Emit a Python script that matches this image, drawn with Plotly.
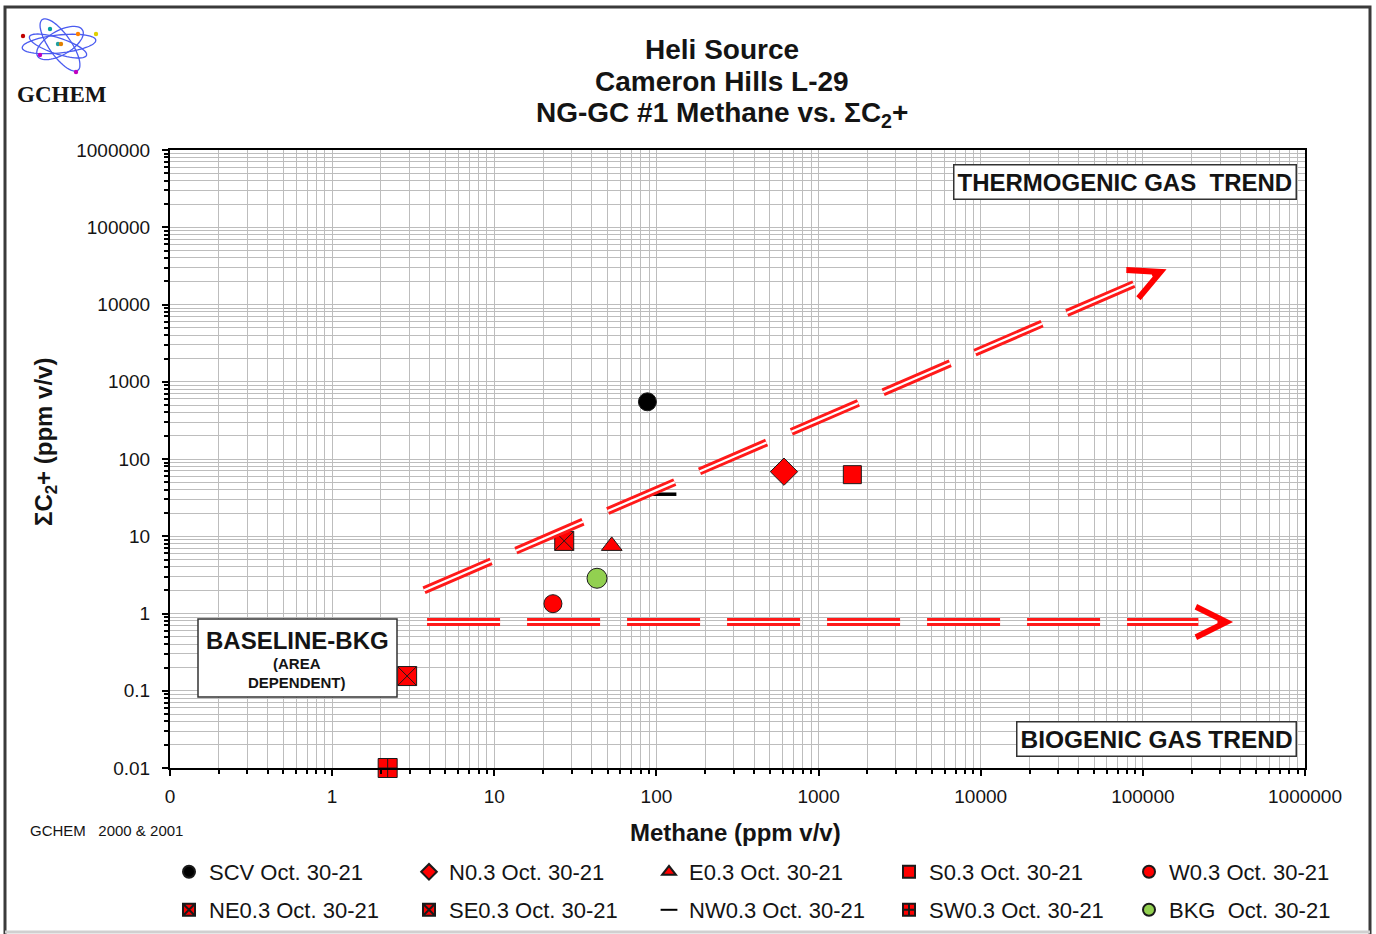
import numpy as np
import plotly.graph_objects as go

# ---------------- data ----------------
SERIES_NAMES = ["SCV Oct. 30-21", "N0.3 Oct. 30-21", "E0.3 Oct. 30-21", "S0.3 Oct. 30-21",
                "W0.3 Oct. 30-21", "NE0.3 Oct. 30-21", "SE0.3 Oct. 30-21", "NW0.3 Oct. 30-21",
                "SW0.3 Oct. 30-21", "BKG\u00a0 Oct. 30-21"]
METHANE = [88, 612, 53, 1615, 23, 27, 2.9, 111, 2.2, 43]          # ppm v/v
C2_PLUS = [550, 68.5, 7.5, 62.7, 1.34, 8.7, 0.155, 35, 0.01, 2.86]  # ppm v/v

THERMO_TREND_X = [3.69, 88100]
THERMO_TREND_Y = [2.0, 18400]
THERMO_ARROW_TIP = [140000, 28500]
BIO_TREND_X = [3.85, 220000]
BIO_TREND_Y = [0.776, 0.776]
BIO_ARROW_TIP = [360000, 0.776]

X_TICK_VALS = [0.1, 1, 10, 100, 1000, 10000, 100000, 1000000]
X_TICK_TEXT = ["0", "1", "10", "100", "1000", "10000", "100000", "1000000"]
Y_TICK_VALS = [0.01, 0.1, 1, 10, 100, 1000, 10000, 100000, 1000000]
Y_TICK_TEXT = ["0.01", "0.1", "1", "10", "100", "1000", "10000", "100000", "1000000"]

# ---------------- styles ----------------
SYMBOLS = ["circle", "diamond", "triangle-up", "square", "circle",
           "square-x", "square-x", "line-ew", "square-cross", "circle"]
FILLS = ["#000000", "#ff0000", "#ff0000", "#ff0000", "#ff0000",
         "#ff0000", "#ff0000", "#000000", "#ff0000", "#92d050"]
SIZES = [18, 21, 18, 18, 18, 19, 19, 18, 19, 20]

W, H = 1376, 934
L, R, T, B = 170, 71, 150, 166
PW, PH = W - L - R, H - T - B
FONT = "Liberation Sans, Arial, sans-serif"
TXT = "#141414"


def xp(px):
    return (px - L) / PW


def yp(py):
    return (H - B - py) / PH


fig = go.Figure()

for i, name in enumerate(SERIES_NAMES):
    sym = SYMBOLS[i]
    if sym == "line-ew":
        marker = dict(symbol=sym, size=SIZES[i], line=dict(color="#000000", width=3.5))
    else:
        marker = dict(symbol=sym, size=SIZES[i], color=FILLS[i],
                      line=dict(color="#1a1a1a", width=1))
    fig.add_trace(go.Scatter(x=[METHANE[i]], y=[C2_PLUS[i]], mode="markers", name=name,
                             marker=marker, cliponaxis=False,
                             legend="legend" if i < 5 else "legend2"))

# double dashed trend lines (red thick line with white centre stroke)
for tx, ty in [(THERMO_TREND_X, THERMO_TREND_Y), (BIO_TREND_X, BIO_TREND_Y)]:
    fig.add_trace(go.Scatter(x=tx, y=ty, mode="lines", showlegend=False, hoverinfo="skip",
                             line=dict(color="#ff1a1a", width=8, dash="73px,27px")))
    fig.add_trace(go.Scatter(x=tx, y=ty, mode="lines", showlegend=False, hoverinfo="skip",
                             line=dict(color="#ffffff", width=2.2, dash="73px,27px")))

minor_x = [m * 10.0 ** e for e in range(-1, 6) for m in range(2, 10)]
minor_y = [m * 10.0 ** e for e in range(-2, 6) for m in range(2, 10)]
GRID = "#bdbdbd"

fig.update_xaxes(type="log", range=[-1, 6], tickmode="array", tickvals=X_TICK_VALS,
                 ticktext=X_TICK_TEXT, showgrid=True, gridcolor=GRID, gridwidth=1,
                 showline=True, linecolor="#000000", linewidth=2, mirror=True,
                 ticks="outside", ticklen=6, tickwidth=2, tickcolor="#000000",
                 zeroline=False, ticklabelstandoff=4,
                 tickfont=dict(family=FONT, size=19, color=TXT),
                 minor=dict(tickmode="array", tickvals=minor_x, ticks="outside", ticklen=4,
                            tickwidth=1.5, tickcolor="#000000", showgrid=True,
                            gridcolor=GRID, gridwidth=1))
fig.update_yaxes(type="log", range=[-2, 6], tickmode="array", tickvals=Y_TICK_VALS,
                 ticktext=Y_TICK_TEXT, showgrid=True, gridcolor=GRID, gridwidth=1,
                 showline=True, linecolor="#000000", linewidth=2, mirror=True,
                 ticks="outside", ticklen=6, tickwidth=2, tickcolor="#000000",
                 zeroline=False, ticklabelstandoff=8,
                 tickfont=dict(family=FONT, size=19, color=TXT),
                 minor=dict(tickmode="array", tickvals=minor_y, ticks="outside", ticklen=4,
                            tickwidth=1.5, tickcolor="#000000", showgrid=True,
                            gridcolor=GRID, gridwidth=1))

ann = []


def text(px, py, s, size, bold=True, family=FONT, anchor="center", angle=0, color=TXT):
    ann.append(dict(x=xp(px), y=yp(py), xref="paper", yref="paper",
                    text=("<b>%s</b>" % s) if bold else s, showarrow=False,
                    xanchor=anchor, yanchor="middle", textangle=angle,
                    font=dict(family=family, size=size, color=color)))


# titles
text(722, 50, "Heli Source", 28)
text(722, 82, "Cameron Hills L-29", 28)
text(722, 114, "NG-GC #1 Methane vs. ΣC<sub>2</sub>+", 28)
# axis titles
text(735, 832, "Methane (ppm v/v)", 24)
text(45, 442, "ΣC<sub>2</sub>+ (ppm v/v)", 24, angle=-90)
# footer and logo text
text(28, 830, "GCHEM\u00a0\u00a0\u00a02000 & 2001", 15, bold=False, anchor="left")
text(62, 95, "GCHEM", 23, family="Liberation Serif, Times New Roman, serif")

# boxed labels
for cx, cy, s, fs in [(1124.5, 182, "THERMOGENIC GAS\u00a0 TREND", 24),
                      (1156.5, 738.5, "BIOGENIC GAS TREND", 24.5)]:
    ann.append(dict(x=xp(cx), y=yp(cy), xref="paper", yref="paper", text="<b>%s</b>" % s,
                    showarrow=False, xanchor="center", yanchor="middle",
                    bgcolor="#ffffff", bordercolor="#333333", borderwidth=1.5, borderpad=3,
                    font=dict(family=FONT, size=fs, color=TXT)))

text(297, 640, "BASELINE-BKG", 24)
text(297, 663, "(AREA", 15)
text(297, 682, "DEPENDENT)", 15)

# arrow heads of the trend lines
dx_dec = PW / 7.0
dy_dec = PH / 8.0
tlx = np.log10(THERMO_TREND_X)
tly = np.log10(THERMO_TREND_Y)
ang = np.arctan2((tly[1] - tly[0]) * dy_dec, (tlx[1] - tlx[0]) * dx_dec)
for tip, a in [(THERMO_ARROW_TIP, ang), (BIO_ARROW_TIP, 0.0)]:
    ann.append(dict(x=np.log10(tip[0]), y=np.log10(tip[1]), xref="x", yref="y", text="",
                    showarrow=True, arrowhead=5, arrowsize=4, arrowwidth=1.5,
                    arrowcolor="#ff0000", ax=-14 * np.cos(a), ay=14 * np.sin(a),
                    axref="pixel", ayref="pixel"))

shapes = []
# baseline box
shapes.append(dict(type="rect", xref="paper", yref="paper", x0=xp(198), x1=xp(397),
                   y0=yp(619), y1=yp(697), fillcolor="#ffffff",
                   line=dict(color="#333333", width=1.5), layer="above"))
# outer frame
shapes.append(dict(type="rect", xref="paper", yref="paper", x0=xp(5), x1=xp(1370),
                   y0=yp(7), y1=yp(960), line=dict(color="#3a3a3a", width=3)))
shapes.append(dict(type="line", xref="paper", yref="paper", x0=xp(5), x1=xp(1370),
                   y0=yp(932), y1=yp(932), line=dict(color="#d0d0d0", width=3)))


# atom logo
def ellipse(cx, cy, rx, ry, deg):
    t = np.linspace(0, 2 * np.pi, 60)
    a = np.deg2rad(deg)
    px = cx + rx * np.cos(t) * np.cos(a) - ry * np.sin(t) * np.sin(a)
    py = cy + rx * np.cos(t) * np.sin(a) + ry * np.sin(t) * np.cos(a)
    pts = ["%.4f,%.4f" % (xp(u), yp(v)) for u, v in zip(px, py)]
    return "M" + " L".join(pts) + " Z"


for (cx, cy, rx, ry, deg) in [(59, 44, 37, 9, -6), (60, 45, 31, 11, 55), (58, 46, 30, 8, 18),
                              (60, 43, 26, 12, -30)]:
    shapes.append(dict(type="path", xref="paper", yref="paper", path=ellipse(cx, cy, rx, ry, deg),
                       line=dict(color="#4b5cf0", width=1.3)))
for (cx, cy, c) in [(23, 36, "#c00000"), (96, 34, "#e0d000"), (76, 72, "#c000c0"),
                    (50, 29, "#00a0a0"), (78, 34, "#ff8000"), (58, 44, "#20a0a0"),
                    (61, 44, "#e08000"), (40, 55, "#c000c0")]:
    shapes.append(dict(type="circle", xref="paper", yref="paper", x0=xp(cx - 2.2), x1=xp(cx + 2.2),
                       y0=yp(cy - 2.2), y1=yp(cy + 2.2), fillcolor=c, line=dict(width=0)))

legend_common = dict(orientation="h", x=xp(169), xanchor="left", yanchor="top",
                     entrywidth=195, entrywidthmode="pixels", itemsizing="constant",
                     font=dict(family=FONT, size=22, color=TXT), bgcolor="rgba(0,0,0,0)",
                     tracegroupgap=0, itemclick=False)

fig.update_layout(
    width=W, height=H, autosize=False,
    margin=dict(l=L, r=R, t=T, b=B, autoexpand=False),
    paper_bgcolor="#ffffff", plot_bgcolor="#ffffff",
    annotations=ann, shapes=shapes,
    showlegend=True,
    legend=dict(y=yp(851), **legend_common),
    legend2=dict(y=yp(889), **legend_common),
)

fig.write_html("out.html", config={"displayModeBar": False},
               post_script="document.body.style.margin='0';")
